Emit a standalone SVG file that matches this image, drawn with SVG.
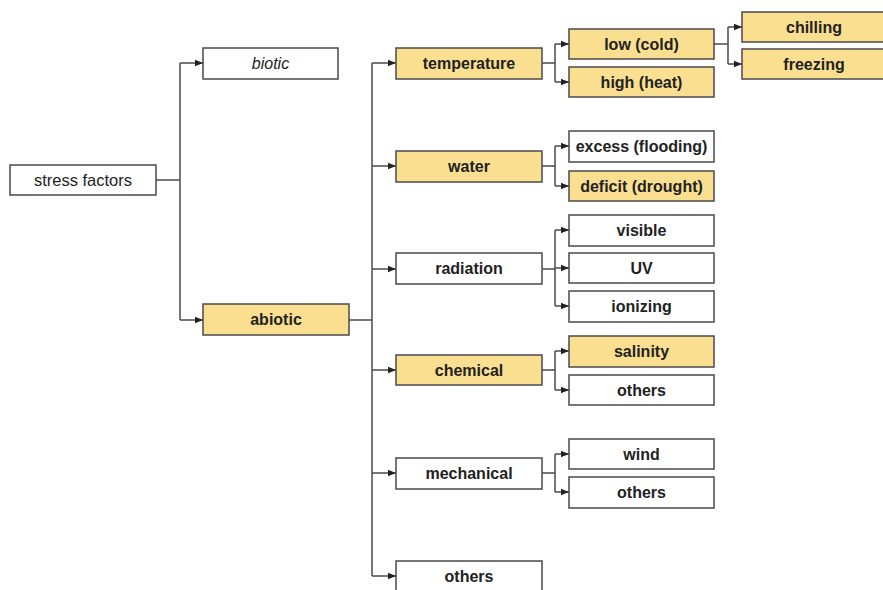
<svg xmlns="http://www.w3.org/2000/svg" width="883" height="590" viewBox="0 0 883 590">
<style>
.box{fill:#ffffff;stroke:#4a4a4a;stroke-width:1.5}
.hl{fill:#fadf90}
.t{font-family:"Liberation Sans",Arial,sans-serif;font-size:16px;font-weight:bold;fill:#222;text-anchor:middle;dominant-baseline:central}
.n{font-weight:normal;font-size:16.5px}
.i{font-style:italic;font-weight:normal}
.c{fill:none;stroke:#4a4a4a;stroke-width:1.5}
</style>
<defs>
<marker id="a" viewBox="0 0 8 8" refX="8" refY="4" markerWidth="8" markerHeight="8" markerUnits="userSpaceOnUse" orient="auto">
<path d="M0,0.8 L8,4 L0,7.2 z" fill="#222"/>
</marker>
</defs>
<g id="connectors">
<path class="c" d="M156,180 H180"/>
<path class="c" d="M180,63 V320"/>
<path class="c" d="M180,63 H203" marker-end="url(#a)"/>
<path class="c" d="M180,320 H203" marker-end="url(#a)"/>
<path class="c" d="M349,320 H372"/>
<path class="c" d="M372,63 V576"/>
<path class="c" d="M372,63 H396" marker-end="url(#a)"/>
<path class="c" d="M372,166 H396" marker-end="url(#a)"/>
<path class="c" d="M372,269 H396" marker-end="url(#a)"/>
<path class="c" d="M372,370 H396" marker-end="url(#a)"/>
<path class="c" d="M372,473 H396" marker-end="url(#a)"/>
<path class="c" d="M372,576 H396" marker-end="url(#a)"/>
<path class="c" d="M542,63 H555"/>
<path class="c" d="M555,44 V82"/>
<path class="c" d="M555,44 H569" marker-end="url(#a)"/>
<path class="c" d="M555,82 H569" marker-end="url(#a)"/>
<path class="c" d="M714,44 H728"/>
<path class="c" d="M728,27 V64"/>
<path class="c" d="M728,27 H742" marker-end="url(#a)"/>
<path class="c" d="M728,64 H742" marker-end="url(#a)"/>
<path class="c" d="M542,166 H555"/>
<path class="c" d="M555,146 V186"/>
<path class="c" d="M555,146 H569" marker-end="url(#a)"/>
<path class="c" d="M555,186 H569" marker-end="url(#a)"/>
<path class="c" d="M542,269 H555"/>
<path class="c" d="M555,230 V306"/>
<path class="c" d="M555,230 H569" marker-end="url(#a)"/>
<path class="c" d="M555,268 H569" marker-end="url(#a)"/>
<path class="c" d="M555,306 H569" marker-end="url(#a)"/>
<path class="c" d="M542,370 H555"/>
<path class="c" d="M555,351 V390"/>
<path class="c" d="M555,351 H569" marker-end="url(#a)"/>
<path class="c" d="M555,390 H569" marker-end="url(#a)"/>
<path class="c" d="M542,473 H555"/>
<path class="c" d="M555,454 V492"/>
<path class="c" d="M555,454 H569" marker-end="url(#a)"/>
<path class="c" d="M555,492 H569" marker-end="url(#a)"/>
</g>
<g id="stress-factors"><rect class="box" x="10" y="165" width="146" height="30"/><text class="t n" x="83" y="180">stress factors</text></g>
<g id="biotic"><rect class="box" x="203" y="48" width="135" height="31"/><text class="t i" x="270.5" y="63.5">biotic</text></g>
<g id="abiotic"><rect class="box hl" x="203" y="304" width="146" height="31"/><text class="t" x="276" y="319.5">abiotic</text></g>
<g id="temperature"><rect class="box hl" x="396" y="48" width="146" height="31"/><text class="t" x="469" y="63.5">temperature</text></g>
<g id="water"><rect class="box hl" x="396" y="151" width="146" height="31"/><text class="t" x="469" y="166.5">water</text></g>
<g id="radiation"><rect class="box" x="396" y="253" width="146" height="31"/><text class="t" x="469" y="268.5">radiation</text></g>
<g id="chemical"><rect class="box hl" x="396" y="355" width="146" height="30"/><text class="t" x="469" y="370">chemical</text></g>
<g id="mechanical"><rect class="box" x="396" y="458" width="146" height="31"/><text class="t" x="469" y="473.5">mechanical</text></g>
<g id="others-abiotic"><rect class="box" x="396" y="561" width="146" height="35"/><text class="t" x="469" y="576">others</text></g>
<g id="low-cold"><rect class="box hl" x="569" y="29" width="145" height="30"/><text class="t" x="641.5" y="44">low (cold)</text></g>
<g id="high-heat"><rect class="box hl" x="569" y="67" width="145" height="30"/><text class="t" x="641.5" y="82">high (heat)</text></g>
<g id="chilling"><rect class="box hl" x="742" y="12" width="150" height="30"/><text class="t" x="814" y="27">chilling</text></g>
<g id="freezing"><rect class="box hl" x="742" y="49" width="150" height="30"/><text class="t" x="814" y="64">freezing</text></g>
<g id="excess-flooding"><rect class="box" x="569" y="131" width="145" height="31"/><text class="t" x="641.5" y="146.5">excess (flooding)</text></g>
<g id="deficit-drought"><rect class="box hl" x="569" y="171" width="145" height="30"/><text class="t" x="641.5" y="186">deficit (drought)</text></g>
<g id="visible"><rect class="box" x="569" y="215" width="145" height="31"/><text class="t" x="641.5" y="230.5">visible</text></g>
<g id="uv"><rect class="box" x="569" y="253" width="145" height="30"/><text class="t" x="641.5" y="268">UV</text></g>
<g id="ionizing"><rect class="box" x="569" y="291" width="145" height="31"/><text class="t" x="641.5" y="306.5">ionizing</text></g>
<g id="salinity"><rect class="box hl" x="569" y="336" width="145" height="31"/><text class="t" x="641.5" y="351.5">salinity</text></g>
<g id="others-chemical"><rect class="box" x="569" y="375" width="145" height="30"/><text class="t" x="641.5" y="390">others</text></g>
<g id="wind"><rect class="box" x="569" y="439" width="145" height="30"/><text class="t" x="641.5" y="454">wind</text></g>
<g id="others-mechanical"><rect class="box" x="569" y="477" width="145" height="31"/><text class="t" x="641.5" y="492.5">others</text></g>
</svg>
